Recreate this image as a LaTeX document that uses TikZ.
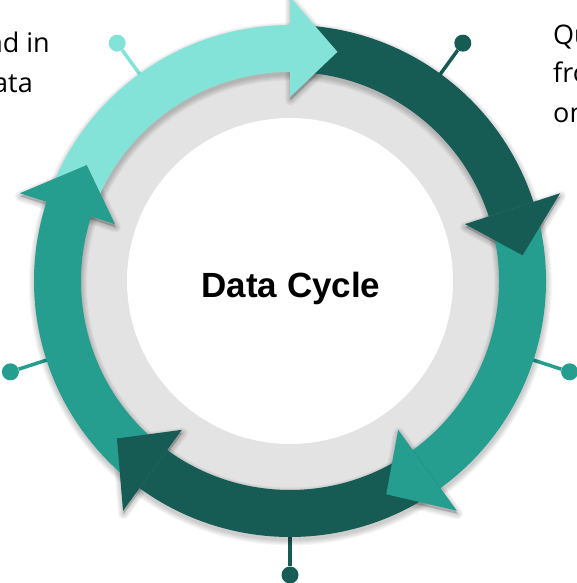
\documentclass[tikz,border=0pt]{standalone}
\usepackage{fontspec}
\setmainfont{Open Sans}
\newfontfamily\titlefont{Liberation Sans}
\usetikzlibrary{calc}

\definecolor{cycleLight}{RGB}{132,227,216}
\definecolor{cycleDark}{RGB}{22,91,84}
\definecolor{cycleTeal}{RGB}{37,158,143}
\definecolor{ringGray}{RGB}{227,227,227}

\tikzset{
  soft shadow/.style={black, opacity=0.035, line join=round},
  pin/.style={line width=3.5pt},
  pindot/.style={circle, inner sep=0pt, minimum size=17pt},
  sidetext/.style={font=\fontsize{27}{32}\selectfont, inner sep=0pt},
}

%% one arrow of the cycle: band and head, #1 = angle of its pin
\newcommand{\cycleband}[1]{%
  (#1+36:256) arc[start angle=#1+36, end angle=#1-36.4, radius=256]
  -- (#1-36.4:209) arc[start angle=#1-36.4, end angle=#1+36, radius=209] -- cycle}
\newcommand{\cyclehead}[1]{%
  (#1-36:184) -- (#1-36:284) -- (#1-47.7:234) -- cycle}

\begin{document}
\begin{tikzpicture}[x=1pt, y=1pt]
  %% frame of the picture, centre of the cycle at the origin
  \clip (-290,-302) rectangle (287,281);
  \useasboundingbox (-290,-302) rectangle (287,281);

  %% grey ring and white disc
  \fill[ringGray] (0,0) circle[radius=232];
  \fill[white] (0,0) circle[radius=163];

  %% one pin per arrow, in the middle of its arc
  \foreach \a/\col [count=\k] in {126/cycleLight, 54/cycleDark, -18/cycleTeal, -90/cycleDark, -162/cycleTeal} {
    \coordinate (rim\k) at (\a:250);
    \node[pindot, fill=\col] (dot\k) at (\a:294) {};
    \draw[pin, \col] (rim\k) -- (dot\k);
  }

  %% soft shadow below the ring of arrows
  \foreach \w in {1,3,...,11} {
    \draw[soft shadow, line width=47+\w] (0.5,-3) circle[radius=232.5];
    \foreach \a in {126, 54, -18, -90, -162}
      \draw[soft shadow, fill, line width=\w, shift={(0.5,-3)}] \cyclehead{\a};
  }

  %% the bands first, so that every head lies on the next band
  \foreach \a/\col in {126/cycleLight, 54/cycleDark, -18/cycleTeal, -90/cycleDark, -162/cycleTeal}
    \fill[\col] \cycleband{\a};
  \foreach \a/\col in {126/cycleLight, 54/cycleDark, -18/cycleTeal, -90/cycleDark, -162/cycleTeal}
    \fill[\col] \cyclehead{\a};

  \node[font=\titlefont\bfseries\fontsize{35}{40}\selectfont, anchor=base] (title) at (1,-17) {Data Cycle};

  %% side texts, cut by the frame
  \node[sidetext, anchor=base east] (leftA) at (-240,228) {nd in};
  \node[sidetext, anchor=base east] (leftB) at (-257,188) {ata};
  \node[sidetext, anchor=base west] (rightA) at (263,236) {Qu};
  \node[sidetext, anchor=base west] (rightB) at (263,198) {fro};
  \node[sidetext, anchor=base west] (rightC) at (263,158) {on};
\end{tikzpicture}
\end{document}
